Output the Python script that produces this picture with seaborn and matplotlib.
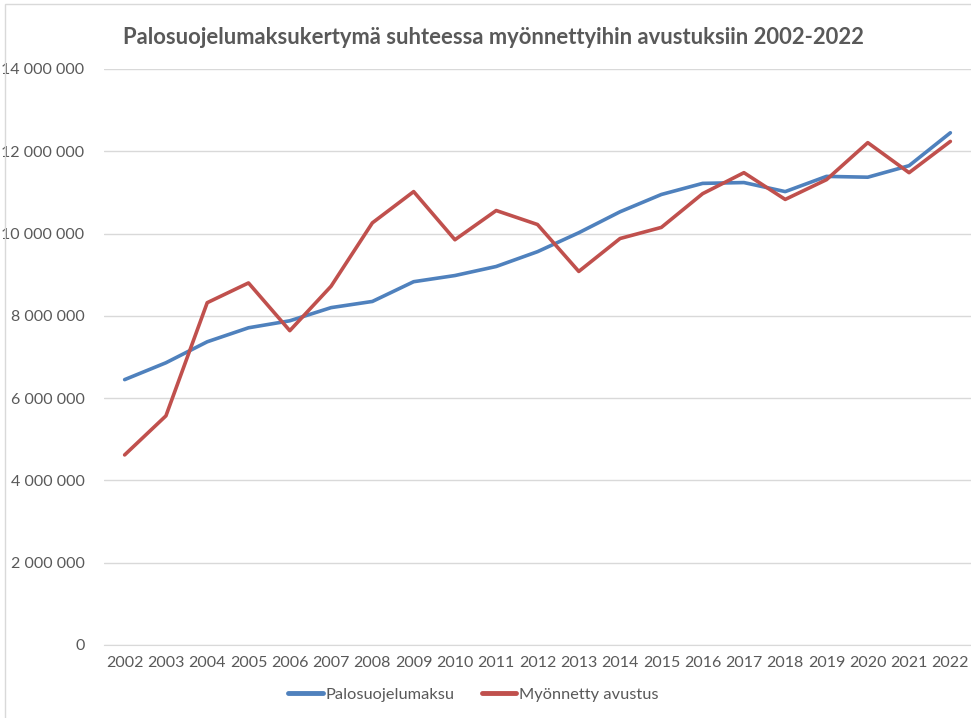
import matplotlib.pyplot as plt
import matplotlib.ticker as mticker
import pandas as pd
import seaborn as sns
from matplotlib.patches import Rectangle

years = [str(y) for y in range(2002, 2023)]
palosuojelumaksu = [
    6450000, 6860000, 7370000, 7710000, 7880000, 8200000, 8350000,
    8830000, 8980000, 9200000, 9560000, 10020000, 10530000, 10950000,
    11220000, 11240000, 11020000, 11390000, 11370000, 11650000, 12450000,
]
myonnetty_avustus = [
    4620000, 5570000, 8320000, 8800000, 7640000, 8720000, 10260000,
    11020000, 9850000, 10560000, 10220000, 9080000, 9880000, 10150000,
    10970000, 11480000, 10830000, 11310000, 12210000, 11480000, 12240000,
]
series_names = ["Palosuojelumaksu", "Myönnetty avustus"]
colors = ["#4F81BD", "#C0504D"]

df = pd.DataFrame({
    "year": years * 2,
    "value": palosuojelumaksu + myonnetty_avustus,
    "series": [series_names[0]] * len(years) + [series_names[1]] * len(years),
})

sns.set_style("white")
plt.rcParams["font.family"] = ["Lato", "DejaVu Sans"]

fig = plt.figure(figsize=(9.71, 7.18), dpi=100)
ax = fig.add_axes([104 / 971, 1 - 645 / 718, (971 - 104) / 971, (645 - 69) / 718])

sns.lineplot(data=df, x="year", y="value", hue="series", palette=colors,
             linewidth=2.6, ax=ax, sort=False, legend=True)

ax.set_xlim(-0.5, len(years) - 0.5)
ax.set_ylim(0, 14000000)
ax.yaxis.set_major_locator(mticker.MultipleLocator(2000000))
ax.yaxis.set_major_formatter(
    mticker.FuncFormatter(lambda v, _: f"{int(v):,}".replace(",", " "))
)
ax.grid(axis="y", color="#D9D9D9", linewidth=1)
ax.set_axisbelow(True)
for s in ["top", "right", "left"]:
    ax.spines[s].set_visible(False)
ax.spines["bottom"].set_color("#D9D9D9")
ax.tick_params(axis="both", length=0, labelsize=11.5, colors="#595959")
ax.tick_params(axis="x", pad=8)
ax.tick_params(axis="y", pad=14)
ax.set_xlabel("")
ax.set_ylabel("")

leg = ax.legend(loc="upper center", bbox_to_anchor=(0.426, -0.048), ncol=2,
                frameon=False, fontsize=11.8, handlelength=2.1,
                handletextpad=0.15, columnspacing=1.7)
for t in leg.get_texts():
    t.set_color("#595959")
for h in leg.get_lines():
    h.set_linewidth(3.5)

fig.text(493.5 / 971, 1 - 38 / 718, "Palosuojelumaksukertymä suhteessa myönnettyihin avustuksiin 2002-2022",
         ha="center", va="center", fontsize=15.8, fontweight="bold", color="#595959")

fig.patches.append(Rectangle((5 / 971, -0.01), 1.0, 1 - 4 / 718 + 0.01,
                             transform=fig.transFigure, fill=False,
                             edgecolor="#D9D9D9", linewidth=1))

plt.savefig("out.png", dpi=100)
plt.close()
